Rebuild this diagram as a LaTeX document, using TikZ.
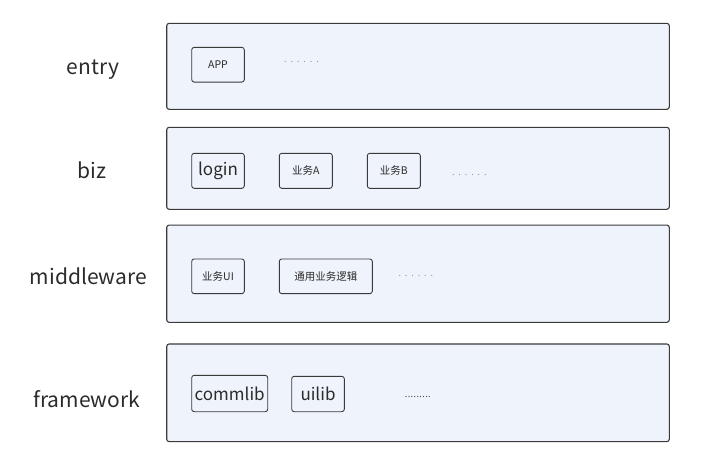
\documentclass[tikz,border=0pt]{standalone}
\usepackage{fontspec}
\setmainfont{Noto Sans CJK SC}
\definecolor{layerfill}{HTML}{EEF3FC}
\definecolor{edge}{HTML}{3A3A3A}
\definecolor{txt}{HTML}{2B2B2B}
\definecolor{dotgrey}{HTML}{8A8F99}
\newcommand\spdots[2]{\foreach \i in {1,...,#1}{.\ifnum\i<#1\kern#2\fi}}
\begin{document}
\begin{tikzpicture}[x=1pt,y=-1pt,
  layer/.style={draw=edge,fill=layerfill,line width=1.1pt,rounded corners=2.5pt,inner sep=0pt,outer sep=0pt},
  comp/.style={draw=edge,line width=0.9pt,rounded corners=2.5pt,inner sep=0pt,outer sep=0pt,text=txt},
  lbl/.style={text=txt,font=\fontsize{21}{24}\selectfont,inner sep=0pt},
  big/.style={font=\fontsize{17}{20}\selectfont},
  small/.style={font=\fontsize{10.5}{12}\selectfont},
  dotrow/.style={text=dotgrey,font=\fontsize{9}{10}\selectfont,inner sep=0pt},
  dotrowdark/.style={text=edge,font=\fontsize{9}{10}\selectfont,inner sep=0pt}]
\useasboundingbox (0,0) rectangle (717,459);
% layers
\node[layer,minimum width=502.6pt,minimum height=86pt] (L1) at (418,66.3) {};
\node[layer,minimum width=502.6pt,minimum height=82pt] (L2) at (418,168.3) {};
\node[layer,minimum width=502.6pt,minimum height=97.3pt] (L3) at (418,273.7) {};
\node[layer,minimum width=502.6pt,minimum height=97.7pt] (L4) at (418,392.8) {};
% labels
\node[lbl] (tEntry) at (93,70) {entry};
\node[lbl] (tBiz) at (92,170) {biz};
\node[lbl] (tMid) at (88.3,276) {middleware};
\node[lbl] (tFw) at (86.7,399) {framework};
% entry
\node[comp,small,minimum width=52.6pt,minimum height=34.7pt] (app) at (218,64.7) {APP};
\node[dotrow] (d1) at (301.5,62) {\spdots{6}{3.9pt}};
% biz
\node[comp,big,minimum width=52.6pt,minimum height=35pt] (login) at (218,170.8) {login};
\node[comp,small,minimum width=53pt,minimum height=35pt] (bizA) at (305.8,170.8) {业务A};
\node[comp,small,minimum width=53pt,minimum height=35pt] (bizB) at (393.8,170.8) {业务B};
\node[dotrow] (d2) at (469.3,175) {\spdots{6}{3.9pt}};
% middleware
\node[comp,small,minimum width=52.6pt,minimum height=34.7pt] (ui) at (218,276.3) {业务UI};
\node[comp,small,minimum width=93pt,minimum height=34.7pt] (logic) at (325.8,276.3) {通用业务逻辑};
\node[dotrow] (d3) at (415.8,276) {\spdots{6}{3.9pt}};
% framework
\node[comp,big,minimum width=76pt,minimum height=36.4pt] (commlib) at (229.7,393.5) {commlib};
\node[comp,big,minimum width=52.6pt,minimum height=35.4pt] (uilib) at (318,394) {uilib};
\node[dotrowdark] (d4) at (417.8,396.7) {\spdots{9}{0.4pt}};
\end{tikzpicture}
\end{document}
